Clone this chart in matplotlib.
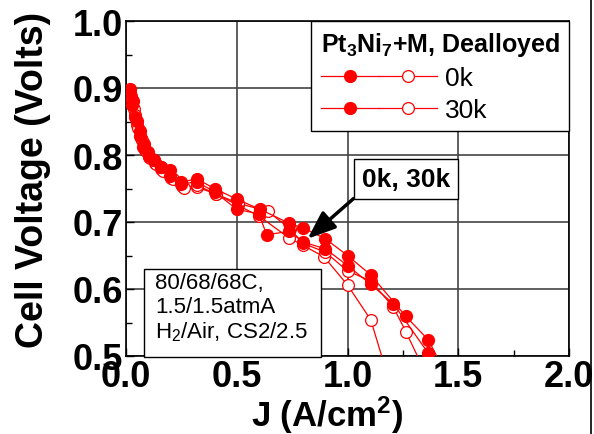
import numpy as np
import matplotlib
matplotlib.use('Agg')
import matplotlib.pyplot as plt
from matplotlib.legend_handler import HandlerTuple
from matplotlib.lines import Line2D
from matplotlib.patches import Rectangle
from matplotlib.ticker import MultipleLocator

# Polarization data, Pt3Ni7+M dealloyed (filled / open markers per cycle count)
j_0k_fill = [0.018, 0.030, 0.048, 0.063, 0.081, 0.100, 0.126, 0.158, 0.200, 0.250, 0.320,
             0.400, 0.500, 0.605, 0.737, 0.800, 0.900, 1.000, 1.105, 1.264, 1.365, 1.450]
v_0k_fill = [0.899, 0.880, 0.851, 0.836, 0.816, 0.804, 0.793, 0.782, 0.777, 0.760, 0.764,
             0.750, 0.734, 0.719, 0.698, 0.691, 0.675, 0.650, 0.621, 0.559, 0.524, 0.470]

j_30k_fill = [0.020, 0.026, 0.040, 0.063, 0.078, 0.104, 0.126, 0.160, 0.200, 0.250, 0.320,
              0.400, 0.500, 0.600, 0.635, 0.737, 0.800, 0.900, 1.000, 1.105, 1.207, 1.365, 1.420]
v_30k_fill = [0.893, 0.874, 0.857, 0.829, 0.812, 0.799, 0.792, 0.782, 0.769, 0.757, 0.760,
              0.745, 0.719, 0.712, 0.681, 0.686, 0.670, 0.660, 0.635, 0.607, 0.578, 0.504, 0.470]

j_0k_open = [0.022, 0.035, 0.050, 0.066, 0.085, 0.104, 0.130, 0.160, 0.205, 0.255, 0.320,
             0.405, 0.505, 0.600, 0.737, 0.800, 0.894, 1.000, 1.105, 1.200]
v_0k_open = [0.888, 0.868, 0.845, 0.826, 0.808, 0.797, 0.788, 0.779, 0.766, 0.753, 0.752,
             0.742, 0.725, 0.709, 0.676, 0.665, 0.648, 0.606, 0.554, 0.450]

j_30k_open = [0.025, 0.040, 0.055, 0.070, 0.090, 0.110, 0.135, 0.165, 0.210, 0.260, 0.320,
              0.405, 0.505, 0.640, 0.740, 0.800, 0.900, 1.000, 1.105, 1.207, 1.264, 1.330]
v_30k_open = [0.882, 0.860, 0.840, 0.822, 0.806, 0.795, 0.786, 0.776, 0.764, 0.751, 0.755,
              0.742, 0.728, 0.716, 0.690, 0.668, 0.655, 0.627, 0.612, 0.573, 0.536, 0.490]

series_labels = ['0k', '30k']
x_ticks = [0.0, 0.5, 1.0, 1.5, 2.0]
y_ticks = [0.5, 0.6, 0.7, 0.8, 0.9, 1.0]

plt.rcParams.update({
    'font.family': ['Liberation Sans', 'DejaVu Sans'],
    'mathtext.fontset': 'custom',
    'mathtext.rm': 'Liberation Sans',
    'mathtext.bf': 'Liberation Sans:bold',
    'mathtext.it': 'Liberation Sans:italic',
})

RED = '#ff0000'

fig = plt.figure(figsize=(5.94, 4.35), dpi=100)
ax = fig.add_axes([126 / 594, 1 - 357 / 435, (569 - 126) / 594, (357 - 22) / 435])

fill_kw = dict(color=RED, lw=0.9, marker='o', ms=8.5, mfc=RED, mec=RED, zorder=3)
open_kw = dict(color=RED, lw=0.9, marker='o', ms=8.5, mfc='white', mec=RED, mew=0.9, zorder=3)

l_0k_open, = ax.plot(j_0k_open, v_0k_open, **open_kw)
l_30k_open, = ax.plot(j_30k_open, v_30k_open, **open_kw)
l_0k_fill, = ax.plot(j_0k_fill, v_0k_fill, **fill_kw)
l_30k_fill, = ax.plot(j_30k_fill, v_30k_fill, **fill_kw)

ax.set_xlim(0.0, 2.0)
ax.set_ylim(0.5, 1.0)
ax.set_xticks(x_ticks)
ax.set_yticks(y_ticks)
ax.set_xticklabels([f'{t:.1f}' for t in x_ticks])
ax.set_yticklabels([f'{t:.1f}' for t in y_ticks])
ax.xaxis.set_minor_locator(MultipleLocator(0.25))
ax.yaxis.set_minor_locator(MultipleLocator(0.05))
ax.tick_params(which='both', direction='in', top=False, right=False, width=1.0)
ax.tick_params(which='major', length=6, labelsize=26, pad=2)
ax.tick_params(which='minor', length=4)
for lab in ax.get_xticklabels() + ax.get_yticklabels():
    lab.set_fontweight('bold')
ax.grid(True, which='major', color='#444444', lw=1.2, zorder=0)
ax.set_axisbelow(True)
for s in ax.spines.values():
    s.set_linewidth(1.2)
    s.set_color('black')

ax.set_xlabel(r'J (A/cm$^\mathbf{2}$)', fontsize=25, fontweight='bold', labelpad=0)
ax.set_ylabel('Cell Voltage (Volts)', fontsize=27, fontweight='bold', labelpad=16)
ax.xaxis.label.set_x(0.455)
ax.yaxis.label.set_y(0.53)

leg = ax.legend(handles=[(l_0k_fill, l_0k_open), (l_30k_fill, l_30k_open)],
                labels=series_labels,
                title=r'Pt$_\mathbf{3}$Ni$_\mathbf{7}$+M, Dealloyed',
                title_fontproperties={'weight': 'bold', 'size': 18},
                handler_map={tuple: HandlerTuple(ndivide=None, pad=0)},
                loc='upper right', borderaxespad=0, fontsize=19,
                handlelength=4.4, handletextpad=0.3, labelspacing=0.3,
                borderpad=0.35, fancybox=False, framealpha=1, edgecolor='black')
leg._legend_box.align = 'left'
leg.get_frame().set_linewidth(1.0)
leg.set_zorder(5)

# operating conditions box
ax.add_patch(Rectangle((0.041, -0.003), 0.399, 0.263, transform=ax.transAxes,
                       fc='white', ec='black', lw=1.0, zorder=6, clip_on=False))
ax.text(0.066, 0.25, '80/68/68C,\n1.5/1.5atmA\nH$_2$/Air, CS2/2.5',
        transform=ax.transAxes, ha='left', va='top', fontsize=16, linespacing=1.15,
        zorder=7)

ax.annotate('0k, 30k', xy=(0.82, 0.675), xytext=(1.265, 0.764),
            ha='center', va='center', fontsize=19, fontweight='bold',
            bbox=dict(boxstyle='square,pad=0.3', fc='white', ec='black', lw=1.0),
            arrowprops=dict(arrowstyle='-|>,head_width=0.35,head_length=0.9',
                            color='black', lw=2.5, relpos=(0, 0), shrinkA=0, shrinkB=0),
            zorder=6)

fig.add_artist(Line2D([591 / 594, 591 / 594], [0, 1], color='black', lw=1.2))

fig.savefig('out.png', dpi=100, facecolor='white')
